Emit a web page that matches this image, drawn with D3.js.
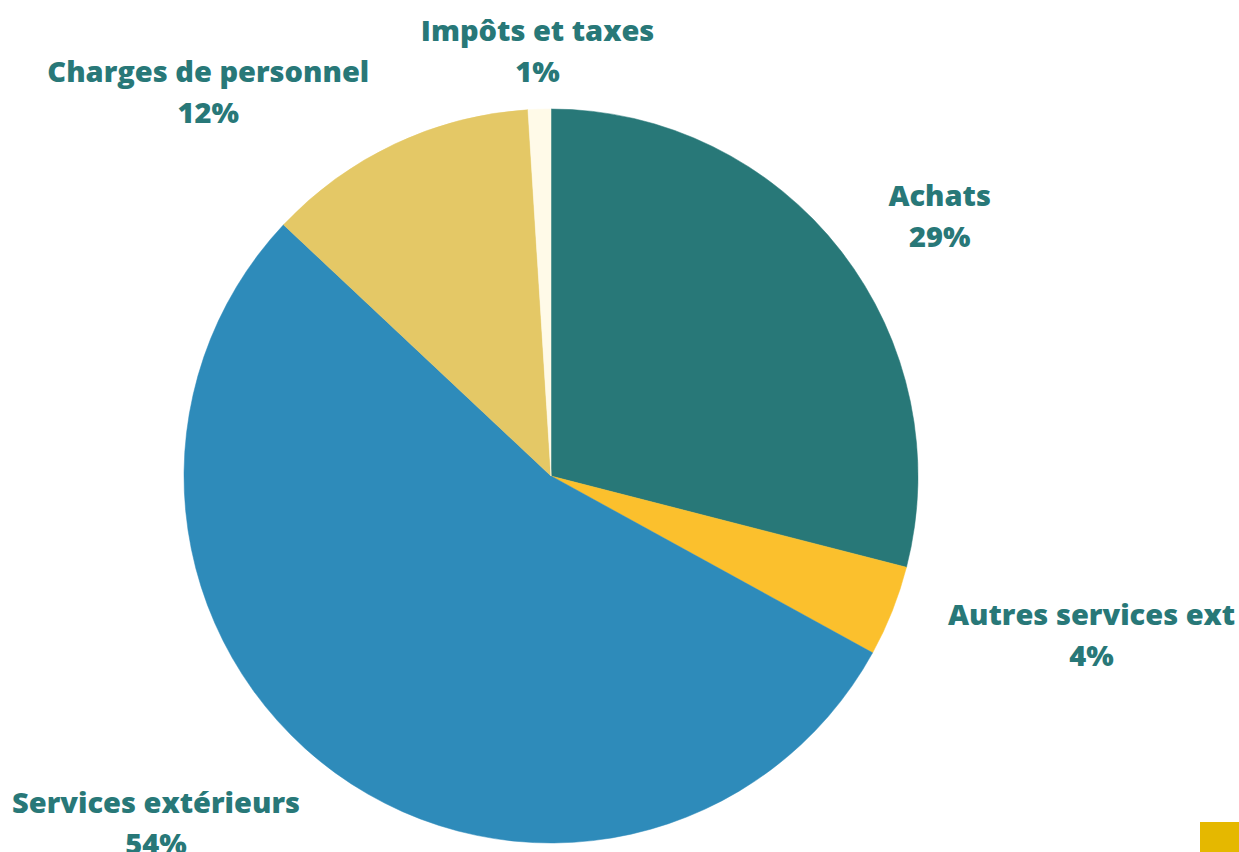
<!DOCTYPE html>
<html><head><meta charset="utf-8">
<script src="https://cdn.jsdelivr.net/npm/d3@7"></script>
<style>html,body{margin:0;padding:0;background:#fff;overflow:hidden}</style>
</head><body>
<svg id="c" width="1239" height="852"></svg>
<script>
const categories = ["Achats", "Autres services ext", "Services extérieurs", "Charges de personnel", "Impôts et taxes"];
const values = [29, 4, 54, 12, 1];
const colors = ["#287878", "#fbc02d", "#2e8bba", "#e4c866", "#fffae8"];

const W = 1239, H = 852;
const cx = 551, cy = 476, R = 367, labelR = 427;
const svg = d3.select("#c");

const pie = d3.pie().sort(null).value(d => d.v);
const data = categories.map((c, i) => ({c, v: values[i], col: colors[i]}));
const arcs = pie(data);
const arc = d3.arc().innerRadius(0).outerRadius(R);

const g = svg.append("g").attr("transform", `translate(${cx},${cy})`);
g.selectAll("path").data(arcs).join("path")
  .attr("d", arc)
  .attr("fill", d => d.data.col)
  .attr("stroke", d => d.data.col)
  .attr("stroke-width", 0.5);

const total = d3.sum(values);
const fmt = v => Math.round(v / total * 100) + "%";

arcs.forEach(a => {
  const mid = (a.startAngle + a.endAngle) / 2;
  const s = Math.sin(mid), c = Math.cos(mid);
  const ax = labelR * s, ay = -labelR * c;
  const lg = g.append("g");
  const t = lg.append("text")
    .attr("text-anchor", "middle")
    .style("font-family", "'Open Sans', sans-serif")
    .style("font-weight", 800)
    .style("font-size", "29px")
    .attr("fill", "#287878");
  t.append("tspan").attr("x", 0).attr("y", -8).text(a.data.c);
  t.append("tspan").attr("x", 0).attr("y", 33).text(fmt(a.data.v));
  const w = t.node().getBBox().width;
  let x = ax;
  if (s > 0.1) x = ax + w / 2;
  else if (s < -0.1) x = ax - w / 2;
  lg.attr("transform", `translate(${x},${ay})`);
});

svg.append("rect").attr("x", 1200).attr("y", 822).attr("width", 39).attr("height", 30).attr("fill", "#e5b800");
</script>
</body></html>
